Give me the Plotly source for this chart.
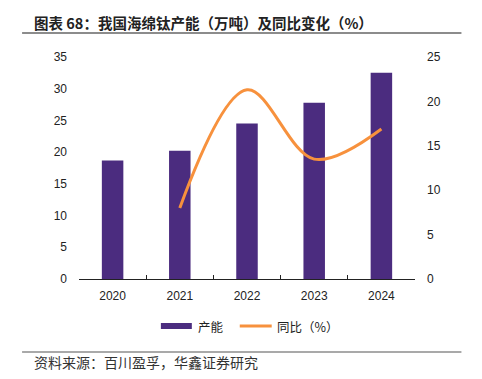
import plotly.graph_objects as go

years = ["2020", "2021", "2022", "2023", "2024"]
capacity = [18.7, 20.2, 24.5, 27.8, 32.5]          # 万吨
yoy_years = ["2021", "2022", "2023", "2024"]
yoy = [8.0, 21.3, 13.5, 16.9]                      # %

left_ticks = [0, 5, 10, 15, 20, 25, 30, 35]
right_ticks = [0, 5, 10, 15, 20, 25]

BAR_COLOR = "#4B2C7F"
LINE_COLOR = "#F7913D"
OFF = 8  # page body margin offset
W, H = 482 - OFF, 379 - OFF
# plot area in reference (page) pixels
L, R, T, B = 79, 415.5, 57, 279
PW, PH = R - L, B - T

def px(xp):
    return (xp - L) / PW

def py(yp):
    return (B - yp) / PH

fig = go.Figure()
fig.add_trace(go.Bar(x=years, y=capacity, name="产能", marker_color=BAR_COLOR,
                     marker_line_width=0, width=0.32, showlegend=False))
fig.add_trace(go.Scatter(x=yoy_years, y=yoy, name="同比（%）", yaxis="y2",
                         mode="lines", line=dict(color=LINE_COLOR, width=3,
                                                 shape="spline", smoothing=1.0),
                         showlegend=False))

tickfont = dict(family="Liberation Sans, Arial, sans-serif", size=12, color="#222")
cjk = "Noto Sans CJK SC, sans-serif"

shapes = [
    dict(type="line", xref="paper", yref="paper", x0=px(22), x1=px(462), y0=py(33), y1=py(33),
         line=dict(color="#8C8C8C", width=2)),
    dict(type="line", xref="paper", yref="paper", x0=px(22), x1=px(462), y0=py(352), y1=py(352),
         line=dict(color="#8C8C8C", width=1.5)),
    # legend symbols
    dict(type="rect", xref="paper", yref="paper", x0=px(161), x1=px(192), y0=py(329), y1=py(323),
         fillcolor=BAR_COLOR, line=dict(width=0)),
    dict(type="line", xref="paper", yref="paper", x0=px(240), x1=px(272), y0=py(326), y1=py(326),
         line=dict(color=LINE_COLOR, width=3)),
]

annotations = [
    dict(text="<b>图表 68：我国海绵钛产能（万吨）及同比变化（%）</b>", xref="paper", yref="paper",
         x=px(32), y=py(22), xanchor="left", yanchor="middle", showarrow=False,
         font=dict(family=cjk, size=14.5, color="#222")),
    dict(text="资料来源：百川盈孚，华鑫证券研究", xref="paper", yref="paper",
         x=px(32), y=py(362), xanchor="left", yanchor="middle", showarrow=False,
         font=dict(family=cjk, size=14, color="#333")),
    dict(text="产能", xref="paper", yref="paper", x=px(196), y=py(326),
         xanchor="left", yanchor="middle", showarrow=False,
         font=dict(family=cjk, size=12.5, color="#222")),
    dict(text="同比（%）", xref="paper", yref="paper", x=px(275), y=py(326),
         xanchor="left", yanchor="middle", showarrow=False,
         font=dict(family=cjk, size=12.5, color="#222")),
]

fig.update_layout(
    width=W, height=H,
    margin=dict(l=L - OFF, r=482 - R, t=T - OFF, b=379 - B, pad=0),
    paper_bgcolor="white", plot_bgcolor="white",
    showlegend=False,
    xaxis=dict(type="category", showline=True, linecolor="#222", linewidth=1,
               ticks="inside", tickson="boundaries", ticklen=4, tickcolor="#222",
               tickfont=tickfont, showgrid=False, ticklabelstandoff=6),
    yaxis=dict(range=[0, 35], tickvals=left_ticks, showgrid=False, zeroline=False,
               showline=False, tickfont=tickfont, ticklabelstandoff=11),
    yaxis2=dict(range=[0, 25], tickvals=right_ticks, overlaying="y", side="right",
                showgrid=False, zeroline=False, showline=False, tickfont=tickfont,
                ticklabelstandoff=11),
    shapes=shapes, annotations=annotations,
)

fig.write_html("out.html")
